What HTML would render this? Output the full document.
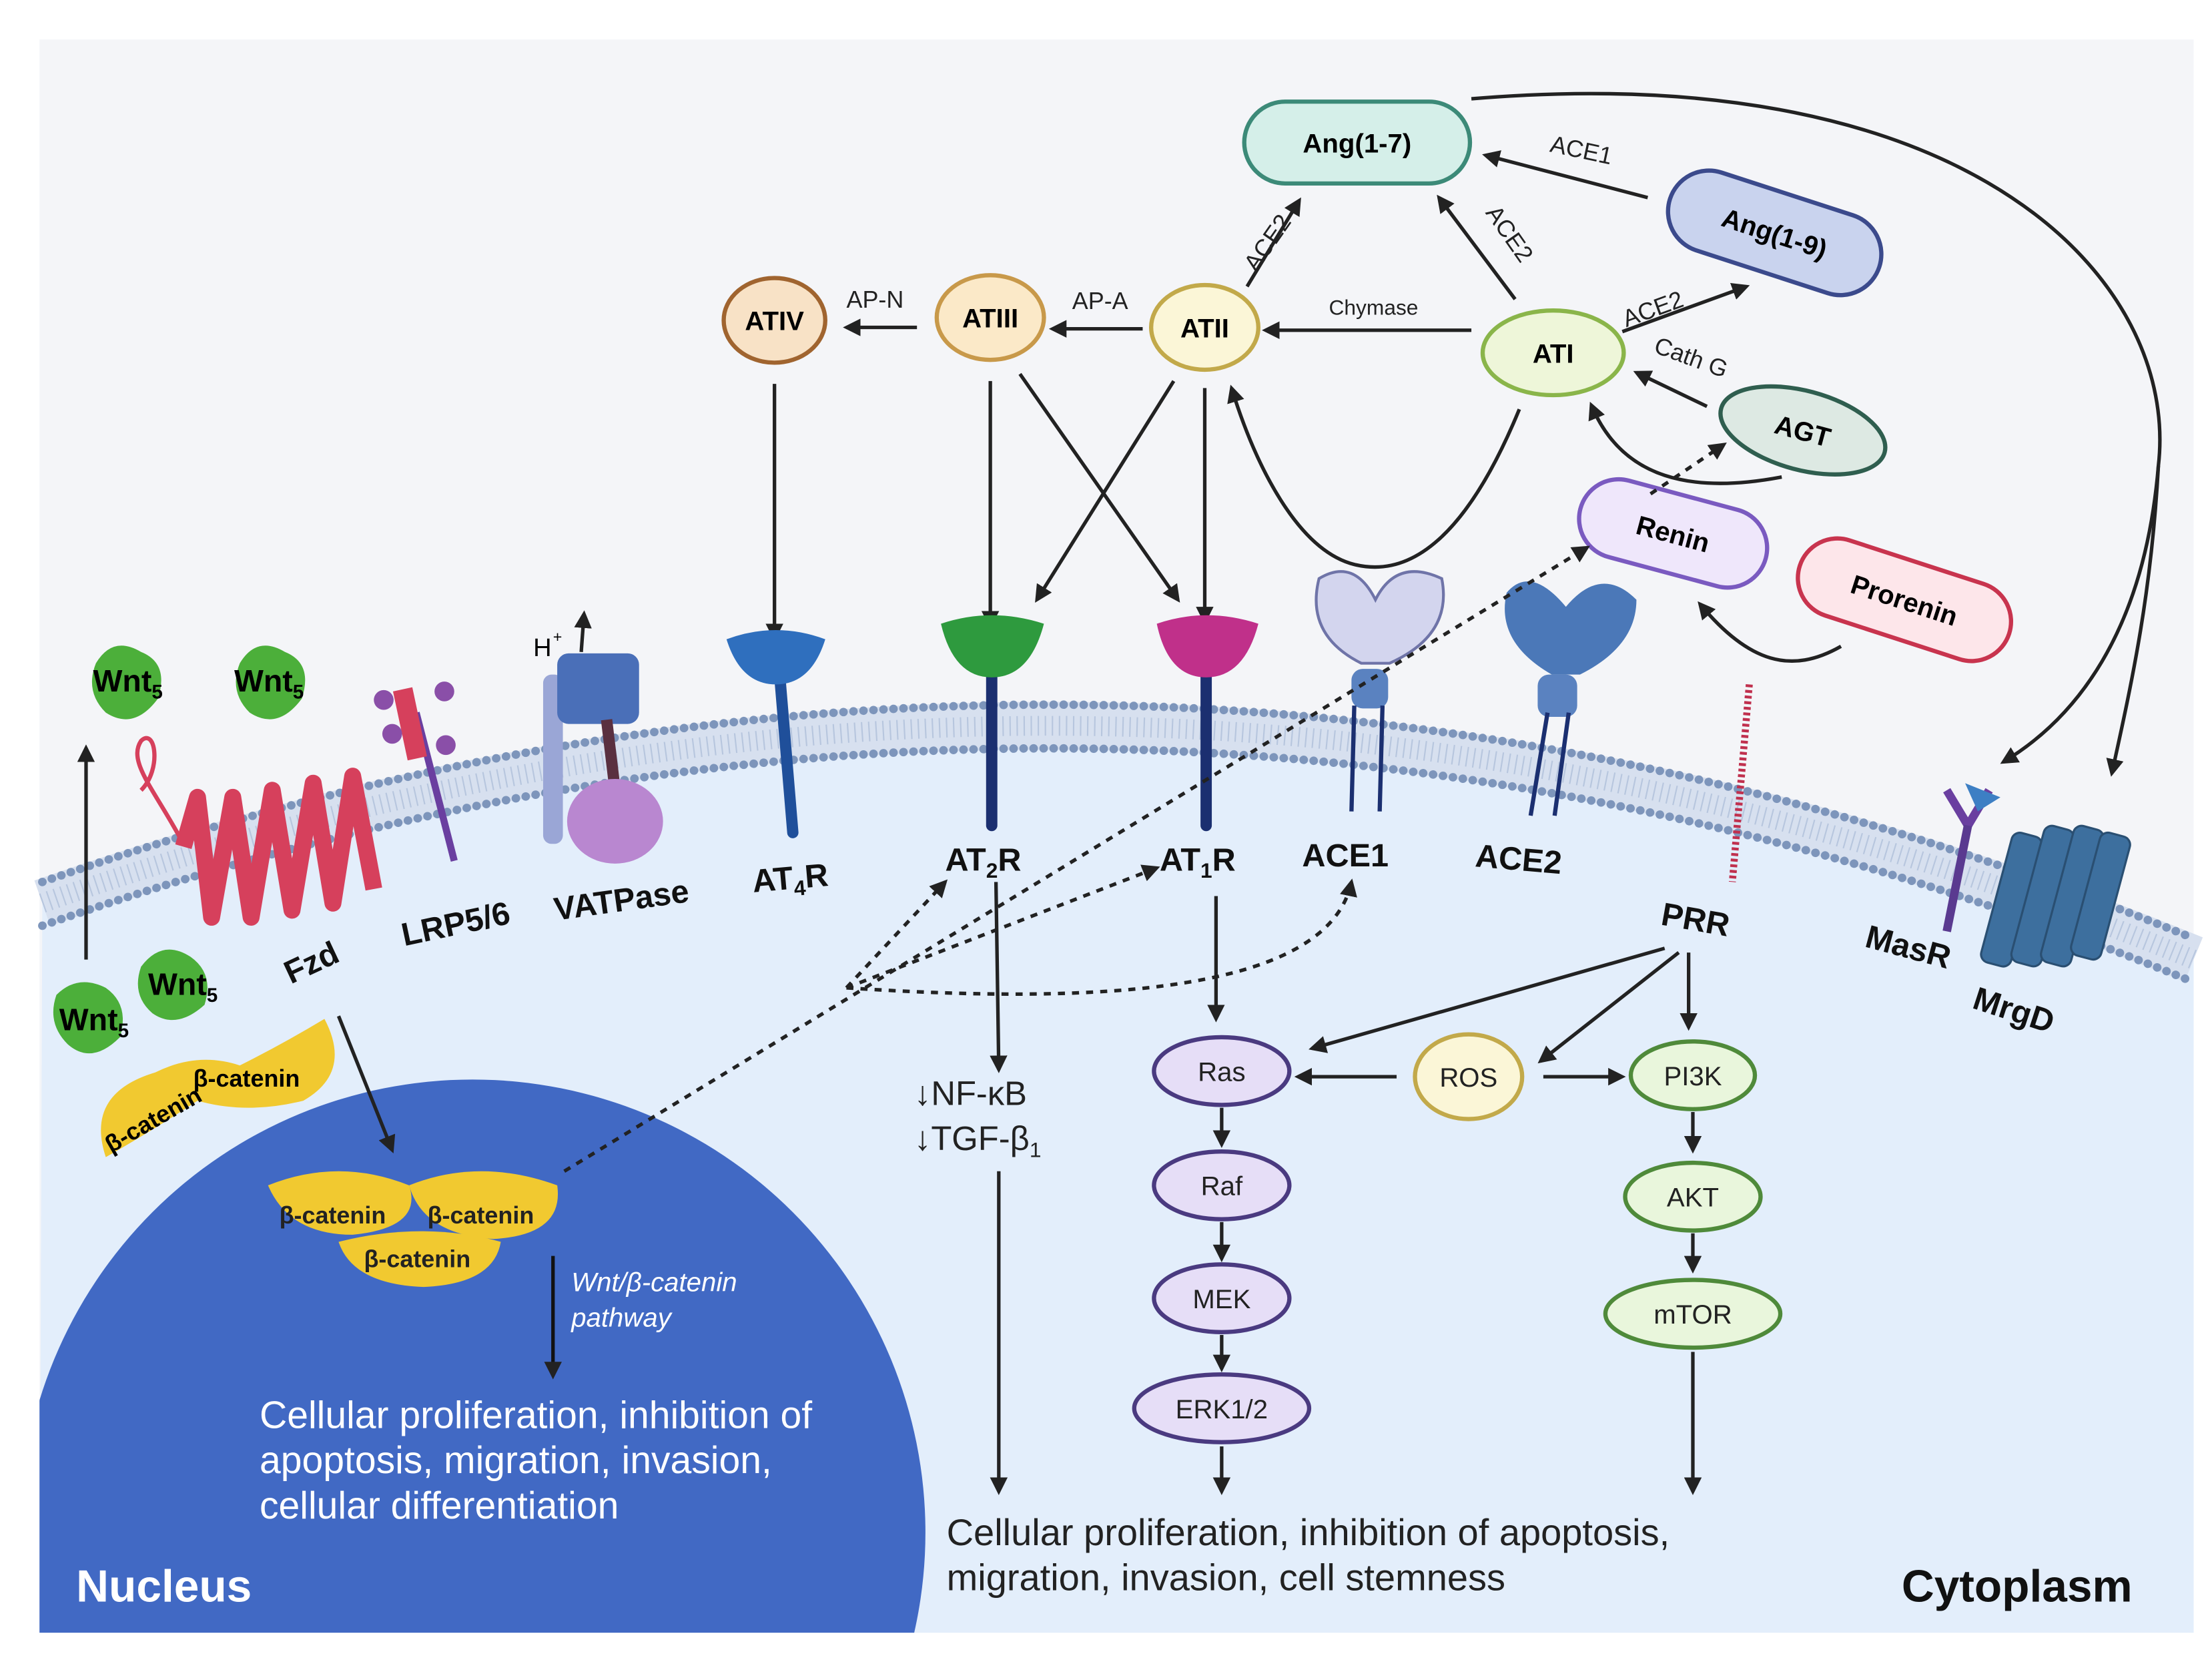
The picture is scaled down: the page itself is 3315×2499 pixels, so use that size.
<!DOCTYPE html>
<html><head><meta charset="utf-8"><style>
html,body{margin:0;padding:0;background:#fff;width:3315px;height:2499px;overflow:hidden}
svg{display:block}
text{font-family:"Liberation Sans",Arial,sans-serif}
</style></head><body>
<svg width="3315" height="2499" viewBox="0 0 1568 1182" xmlns="http://www.w3.org/2000/svg">
<defs>
<marker id="a" viewBox="0 0 10 10" refX="8" refY="5" markerWidth="5" markerHeight="5" orient="auto"><path d="M0,0L10,5L0,10z" fill="#222"/></marker>
</defs>
<rect x="28" y="28" width="1527" height="1129" fill="#f4f5f8"/>
<path d="M30,640 Q800,370 1555,680 L1555,1157 L28,1157 Z" fill="#e3eefb"/>
<path d="M30,640 Q800,370 1555,680" fill="none" stroke="#d7e0ef" stroke-width="34"/>
<path d="M30,640 Q800,370 1555,680" fill="none" stroke="#b7c6de" stroke-width="14" stroke-dasharray="1 4"/>
<path d="M30,625 Q800,355 1555,665" fill="none" stroke="#7d95bb" stroke-width="6" stroke-dasharray="0.1 7" stroke-linecap="round"/>
<path d="M30,656 Q800,386 1555,696" fill="none" stroke="#7d95bb" stroke-width="6" stroke-dasharray="0.1 7" stroke-linecap="round"/>
<clipPath id="c"><rect x="28" y="28" width="1527" height="1129"/></clipPath>
<circle cx="335" cy="1086" r="321" fill="#4169c4" clip-path="url(#c)"/>

<rect x="882" y="72" width="160" height="58" rx="29" fill="#d5efe9" stroke="#3c8a78" stroke-width="3"/>
<text x="962" y="108" font-size="19" font-weight="bold" text-anchor="middle">Ang(1-7)</text>
<g transform="translate(1258,165) rotate(18)"><rect x="-78" y="-29" width="156" height="58" rx="29" fill="#c9d3ee" stroke="#3b4a8c" stroke-width="3"/><text y="7" font-size="19" font-weight="bold" text-anchor="middle">Ang(1-9)</text></g>
<ellipse cx="1101" cy="250" rx="50" ry="30" fill="#eef6d9" stroke="#8ab54a" stroke-width="3"/><text x="1101" y="257" font-size="19" font-weight="bold" text-anchor="middle">ATI</text>
<ellipse cx="854" cy="232" rx="38" ry="30" fill="#fbf6d7" stroke="#c2a94a" stroke-width="3"/><text x="854" y="239" font-size="19" font-weight="bold" text-anchor="middle">ATII</text>
<ellipse cx="702" cy="225" rx="38" ry="30" fill="#fbe9c8" stroke="#c8994a" stroke-width="3"/><text x="702" y="232" font-size="19" font-weight="bold" text-anchor="middle">ATIII</text>
<ellipse cx="549" cy="227" rx="36" ry="30" fill="#f8e2c6" stroke="#a0642f" stroke-width="3"/><text x="549" y="234" font-size="19" font-weight="bold" text-anchor="middle">ATIV</text>
<g transform="translate(1278,305) rotate(15)"><ellipse rx="60" ry="28" fill="#dde9e3" stroke="#2f5e4f" stroke-width="3"/><text y="7" font-size="19" font-weight="bold" text-anchor="middle">AGT</text></g>
<g transform="translate(1186,378) rotate(15)"><rect x="-68" y="-28" width="136" height="56" rx="28" fill="#efe7fb" stroke="#7a5ac0" stroke-width="3"/><text y="7" font-size="19" font-weight="bold" text-anchor="middle">Renin</text></g>
<g transform="translate(1350,425) rotate(18)"><rect x="-78" y="-28" width="156" height="56" rx="28" fill="#fde6ea" stroke="#c8344e" stroke-width="3"/><text y="7" font-size="19" font-weight="bold" text-anchor="middle">Prorenin</text></g>

<g stroke="#222" stroke-width="2.5" fill="none" marker-end="url(#a)">
<line x1="1168" y1="140" x2="1053" y2="110"/>
<line x1="1074" y1="212" x2="1020" y2="140"/>
<line x1="884" y1="203" x2="921" y2="142"/>
<line x1="1150" y1="235" x2="1238" y2="203"/>
<line x1="1210" y1="288" x2="1160" y2="264"/>
<line x1="1043" y1="234" x2="897" y2="234"/>
<line x1="810" y1="233" x2="746" y2="233"/>
<line x1="650" y1="232" x2="600" y2="232"/>
<line x1="549" y1="272" x2="549" y2="452"/>
<line x1="702" y1="270" x2="702" y2="443"/>
<line x1="723" y1="265" x2="835" y2="425"/>
<line x1="832" y1="270" x2="735" y2="425"/>
<line x1="854" y1="275" x2="854" y2="440"/>
<path d="M1077,290 C1040,380 1000,410 960,400 C920,390 890,330 873,275"/>
<path d="M1263,338 C1200,350 1150,340 1128,287"/>
<path d="M1305,458 C1270,478 1240,470 1205,428"/>
<path d="M1043,70 C1400,40 1545,200 1530,330 C1520,450 1470,510 1420,540"/>
<path d="M1530,330 C1525,420 1512,480 1497,548"/>
<line x1="61" y1="680" x2="61" y2="530"/>
</g>
<g font-size="17" fill="#222">
<text x="1098" y="112" transform="rotate(12 1120 110)">ACE1</text>
<text x="1040" y="165" transform="rotate(55 1060 170)">ACE2</text>
<text x="873" y="190" transform="rotate(-55 885 175)">ACE2</text>
<text x="1148" y="225" transform="rotate(-20 1170 215)">ACE2</text>
<text x="1170" y="258" transform="rotate(20 1195 258)">Cath G</text>
<text x="942" y="223" font-size="15">Chymase</text>
<text x="760" y="219">AP-A</text>
<text x="600" y="218">AP-N</text>
</g>

<g stroke-linecap="round">
<line x1="552" y1="470" x2="562" y2="590" stroke="#1f4f9a" stroke-width="8"/>
<path d="M515,453 Q550,440 585,453 Q575,485 550,485 Q525,485 515,453z" fill="#2f6fbe"/>
<line x1="703" y1="470" x2="703" y2="585" stroke="#1b2f70" stroke-width="8"/>
<path d="M667,442 Q703,430 740,442 Q730,480 703,480 Q676,480 667,442z" fill="#2e9a3e"/>
<line x1="855" y1="470" x2="855" y2="585" stroke="#1b2f70" stroke-width="8"/>
<path d="M820,442 Q855,430 892,442 Q882,480 855,480 Q828,480 820,442z" fill="#c0308a"/>
</g>
<g>
<path d="M935,410 Q960,395 975,425 Q990,395 1022,410 Q1030,450 985,470 L965,470 Q925,450 935,410z" fill="#d3d5ee" stroke="#6f74a8" stroke-width="2"/>
<rect x="958" y="474" width="26" height="28" rx="8" fill="#5a82c0"/>
<line x1="960" y1="500" x2="958" y2="575" stroke="#1b2f70" stroke-width="3"/><line x1="980" y1="500" x2="978" y2="575" stroke="#1b2f70" stroke-width="3"/>
<path d="M1068,420 Q1085,400 1110,430 Q1135,400 1160,425 Q1160,458 1120,478 L1100,478 Q1060,455 1068,420z" fill="#4b78b8"/>
<rect x="1090" y="478" width="28" height="30" rx="8" fill="#5a82c0"/>
<line x1="1097" y1="505" x2="1085" y2="578" stroke="#1b2f70" stroke-width="3"/><line x1="1112" y1="505" x2="1102" y2="578" stroke="#1b2f70" stroke-width="3"/>
</g>
<path d="M1240,485 L1228,625" stroke="#c0304e" stroke-width="5" stroke-dasharray="2 2"/>
<path d="M1380,560 L1395,585 L1410,560" fill="none" stroke="#6a3fa0" stroke-width="6"/>
<path d="M1393,555 L1418,565 L1402,575z" fill="#3d7fc4"/>
<line x1="1395" y1="585" x2="1380" y2="660" stroke="#5a3a90" stroke-width="6"/>
<g fill="#3d6f9e" stroke="#2a4f72" stroke-width="1.5">
<rect x="1415" y="590" width="22" height="95" rx="6" transform="rotate(15 1426 637)"/>
<rect x="1437" y="585" width="22" height="100" rx="6" transform="rotate(15 1448 635)"/>
<rect x="1458" y="585" width="22" height="100" rx="6" transform="rotate(15 1469 635)"/>
<rect x="1478" y="590" width="22" height="90" rx="6" transform="rotate(15 1489 635)"/>
</g>
<g fill="none" stroke="#d6405c" stroke-width="12" stroke-linejoin="round">
<path d="M130,600 L140,565 L150,650 L165,565 L178,650 L193,560 L207,645 L222,555 L236,640 L250,550 L265,630"/>
</g>
<path d="M130,598 C110,560 90,540 100,525 C110,515 115,545 100,560" fill="none" stroke="#d6405c" stroke-width="3"/>
<line x1="295" y1="505" x2="322" y2="610" stroke="#6a3fa0" stroke-width="5"/>
<rect x="283" y="488" width="14" height="50" fill="#d6405c" transform="rotate(-12 290 510)"/>
<g fill="#8a4fa8"><circle cx="272" cy="496" r="7"/><circle cx="278" cy="520" r="7"/><circle cx="315" cy="490" r="7"/><circle cx="316" cy="528" r="7"/></g>
<rect x="385" y="478" width="14" height="120" rx="6" fill="#9aa6d6"/>
<rect x="395" y="463" width="58" height="50" rx="8" fill="#4a6fb8"/>
<line x1="430" y1="510" x2="436" y2="560" stroke="#5a3040" stroke-width="8"/>
<ellipse cx="436" cy="582" rx="34" ry="30" fill="#b987d0"/>
<line x1="412" y1="462" x2="414" y2="435" stroke="#222" stroke-width="2.5" marker-end="url(#a)"/>
<text x="378" y="465" font-size="18">H</text><text x="392" y="455" font-size="11">+</text>
<g fill="#4caf3a">
<path d="M68,470 Q80,450 100,462 Q120,470 112,495 Q95,518 75,505 Q60,490 68,470z"/>
<path d="M170,470 Q182,450 202,462 Q222,470 214,495 Q197,518 177,505 Q162,490 170,470z"/>
<path d="M40,705 Q55,690 75,700 Q92,712 85,735 Q65,755 48,740 Q33,725 40,705z"/>
<path d="M100,685 Q115,665 135,678 Q152,690 145,712 Q125,730 108,718 Q93,705 100,685z"/>
</g>
<g font-weight="bold" font-size="22">
<text x="66" y="490">Wnt<tspan font-size="14" dy="5">5</tspan></text>
<text x="166" y="490">Wnt<tspan font-size="14" dy="5">5</tspan></text>
<text x="105" y="705">Wnt<tspan font-size="14" dy="5">5</tspan></text>
<text x="42" y="730">Wnt<tspan font-size="14" dy="5">5</tspan></text>
</g>
<path d="M75,820 Q60,775 110,760 Q140,745 170,755 Q200,740 230,722 Q250,760 215,780 Q175,790 140,780 Q110,800 75,820z" fill="#f1c930"/>
<text x="68" y="803" font-size="17" font-weight="bold" transform="rotate(-30 100 790)">β-catenin</text>
<text x="137" y="770" font-size="17" font-weight="bold">β-catenin</text>
<g fill="#f1c930">
<path d="M190,840 Q240,820 290,840 Q300,870 250,875 Q205,875 190,840z"/>
<path d="M290,840 Q340,820 395,840 Q400,875 350,878 Q300,875 290,840z"/>
<path d="M240,880 Q300,865 355,880 Q350,910 300,912 Q250,910 240,880z"/>
</g>
<g font-size="17" font-weight="bold" fill="#222">
<text x="198" y="867">β-catenin</text><text x="303" y="867">β-catenin</text><text x="258" y="898">β-catenin</text>
</g>
<g font-size="23" font-weight="bold" fill="#111">
<text x="200" y="690" transform="rotate(-25 220 680)">Fzd</text>
<text x="283" y="663" transform="rotate(-12 320 650)">LRP5/6</text>
<text x="392" y="645" transform="rotate(-8 445 635)">VATPase</text>
<text x="533" y="630" transform="rotate(-5 560 620)">AT<tspan font-size="15" dy="5">4</tspan><tspan dy="-5">R</tspan></text>
<text x="670" y="617">AT<tspan font-size="15" dy="5">2</tspan><tspan dy="-5">R</tspan></text>
<text x="822" y="617">AT<tspan font-size="15" dy="5">1</tspan><tspan dy="-5">R</tspan></text>
<text x="923" y="614">ACE1</text>
<text x="1046" y="617" transform="rotate(5 1080 607)">ACE2</text>
<text x="1178" y="660" transform="rotate(10 1205 650)">PRR</text>
<text x="1322" y="680" transform="rotate(15 1357 672)">MasR</text>
<text x="1398" y="725" transform="rotate(18 1432 717)">MrgD</text>
</g>
<g stroke="#222" stroke-width="2.5" fill="none" stroke-dasharray="5 5">
<path d="M400,830 L1125,388" marker-end="url(#a)"/>
<path d="M1170,350 L1222,315" marker-end="url(#a)"/>
<path d="M600,700 L670,625" marker-end="url(#a)"/>
<path d="M600,700 L820,615" marker-end="url(#a)"/>
<path d="M600,700 C750,710 940,710 958,625" marker-end="url(#a)"/>
</g>
<g stroke="#222" stroke-width="2.5" fill="none" marker-end="url(#a)">
<line x1="706" y1="625" x2="708" y2="758"/>
<line x1="708" y1="830" x2="708" y2="1057"/>
<line x1="862" y1="635" x2="862" y2="722"/>
<line x1="866" y1="785" x2="866" y2="811"/>
<line x1="866" y1="866" x2="866" y2="892"/>
<line x1="866" y1="946" x2="866" y2="970"/>
<line x1="866" y1="1025" x2="866" y2="1057"/>
<line x1="1180" y1="672" x2="930" y2="743"/>
<line x1="1190" y1="675" x2="1092" y2="752"/>
<line x1="1197" y1="675" x2="1197" y2="728"/>
<line x1="990" y1="763" x2="920" y2="763"/>
<line x1="1094" y1="763" x2="1150" y2="763"/>
<line x1="1200" y1="788" x2="1200" y2="815"/>
<line x1="1200" y1="874" x2="1200" y2="900"/>
<line x1="1200" y1="958" x2="1200" y2="1057"/>
<line x1="392" y1="890" x2="392" y2="975" stroke="#111"/>
<line x1="240" y1="720" x2="278" y2="815"/>
</g>
<g stroke-width="3">
<ellipse cx="866" cy="759" rx="48" ry="24" fill="#e6def7" stroke="#4a3a80"/>
<ellipse cx="866" cy="840" rx="48" ry="24" fill="#e6def7" stroke="#4a3a80"/>
<ellipse cx="866" cy="920" rx="48" ry="24" fill="#e6def7" stroke="#4a3a80"/>
<ellipse cx="866" cy="998" rx="62" ry="24" fill="#e6def7" stroke="#4a3a80"/>
<ellipse cx="1041" cy="763" rx="38" ry="30" fill="#fbf6d7" stroke="#c2a94a"/>
<ellipse cx="1200" cy="762" rx="44" ry="24" fill="#e9f6dc" stroke="#4f8a3a"/>
<ellipse cx="1200" cy="848" rx="48" ry="24" fill="#e9f6dc" stroke="#4f8a3a"/>
<ellipse cx="1200" cy="931" rx="62" ry="24" fill="#e9f6dc" stroke="#4f8a3a"/>
</g>
<g font-size="19" text-anchor="middle" fill="#222">
<text x="866" y="766">Ras</text><text x="866" y="847">Raf</text><text x="866" y="927">MEK</text><text x="866" y="1005">ERK1/2</text>
<text x="1041" y="770">ROS</text><text x="1200" y="769">PI3K</text><text x="1200" y="855">AKT</text><text x="1200" y="938">mTOR</text>
</g>
<g font-size="24" fill="#222">
<text x="648" y="783">↓NF-κB</text>
<text x="648" y="815">↓TGF-β<tspan font-size="15" dy="5">1</tspan></text>
</g>
<g font-size="26.5" fill="#222">
<text x="671" y="1095">Cellular proliferation, inhibition of apoptosis,</text>
<text x="671" y="1127">migration, invasion, cell stemness</text>
</g>
<g fill="#fff">
<text x="405" y="915" font-size="19" font-style="italic">Wnt/β-catenin</text>
<text x="405" y="940" font-size="19" font-style="italic">pathway</text>
<text x="184" y="1012" font-size="27">Cellular proliferation, inhibition of</text>
<text x="184" y="1044" font-size="27">apoptosis, migration, invasion,</text>
<text x="184" y="1076" font-size="27">cellular differentiation</text>
<text x="54" y="1135" font-size="32" font-weight="bold">Nucleus</text>
</g>
<text x="1348" y="1135" font-size="32" font-weight="bold" fill="#111">Cytoplasm</text>
</svg>
</body></html>
